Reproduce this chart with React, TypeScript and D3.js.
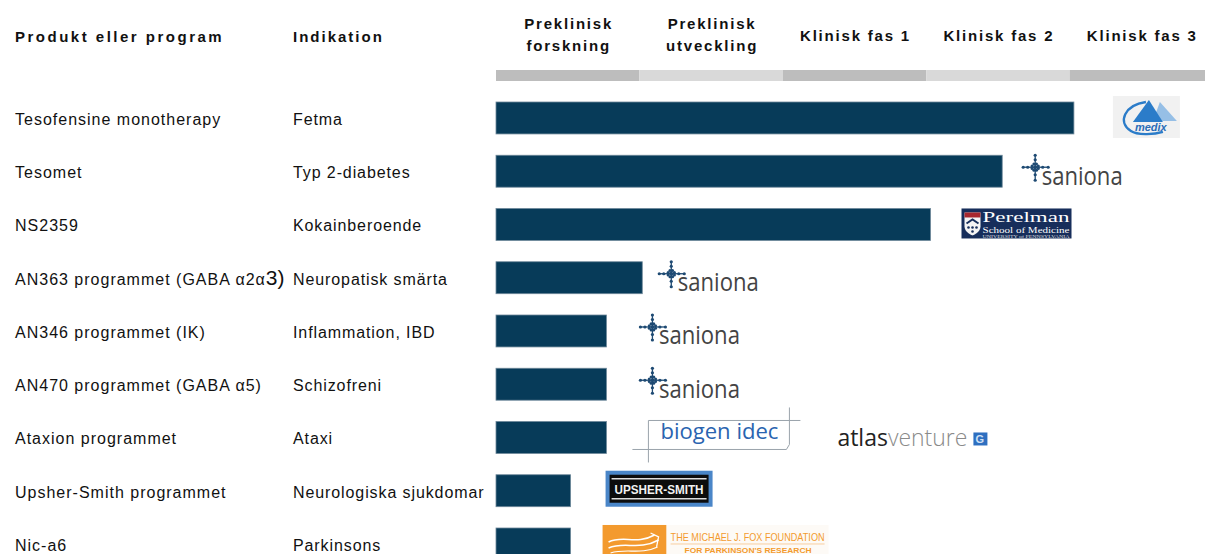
import React from "react";
import * as d3 from "d3";

// ---------- data ----------
const products = [
  "Tesofensine monotherapy",
  "Tesomet",
  "NS2359",
  "AN363 programmet (GABA α2α3)",
  "AN346 programmet (IK)",
  "AN470 programmet (GABA α5)",
  "Ataxion programmet",
  "Upsher-Smith programmet",
  "Nic-a6",
];
const indications = [
  "Fetma",
  "Typ 2-diabetes",
  "Kokainberoende",
  "Neuropatisk smärta",
  "Inflammation, IBD",
  "Schizofreni",
  "Ataxi",
  "Neurologiska sjukdomar",
  "Parkinsons",
];
// progress measured in phases (1 unit = one phase column)
const progress = [4.03, 3.53, 3.03, 1.02, 0.77, 0.77, 0.77, 0.52, 0.52];
const partners = [
  "medix",
  "saniona",
  "perelman",
  "saniona",
  "saniona",
  "saniona",
  "biogen",
  "upsher",
  "fox",
];
const phases = [
  ["Preklinisk", "forskning"],
  ["Preklinisk", "utveckling"],
  ["Klinisk fas 1"],
  ["Klinisk fas 2"],
  ["Klinisk fas 3"],
];

// ---------- layout ----------
const W = 1205;
const H = 554;
const logoGap = [39, 21, 31, 17, 34, 34, 25, 35, 32];
const FONT = "'Liberation Sans', Arial, sans-serif";
const SERIF = "'Liberation Serif', 'DejaVu Serif', serif";
const BAR = "#073B59";

const x = d3.scaleLinear().domain([0, phases.length]).range([496, 1213]);
const y = d3
  .scaleBand<number>()
  .domain(d3.range(products.length))
  .range([91.35, 570.6])
  .paddingInner(0.4)
  .paddingOuter(0.2);

function Saniona({ cx, cy }: { cx: number; cy: number }) {
  const c = "#1E4A73";
  const ring = d3.range(8).map((i) => {
    const a = (i / 8) * Math.PI * 2 + Math.PI / 8;
    return [cx + Math.cos(a) * 3.4, cy + Math.sin(a) * 3.4];
  });
  return (
    <g>
      <line x1={cx} x2={cx} y1={cy - 12} y2={cy + 13} stroke={c} strokeWidth={1.3} />
      <line x1={cx - 12} x2={cx + 13} y1={cy} y2={cy} stroke={c} strokeWidth={1.3} />
      {[
        [cx, cy - 12],
        [cx, cy + 13],
        [cx - 12, cy],
        [cx + 13, cy],
        [cx, cy - 7.5],
        [cx, cy + 7.5],
        [cx - 7.5, cy],
        [cx + 7.5, cy],
      ].map(([a, b], i) => (
        <circle key={i} cx={a} cy={b} r={1.6} fill={c} />
      ))}
      {ring.map(([a, b], i) => (
        <circle key={"r" + i} cx={a} cy={b} r={1.5} fill={c} />
      ))}
      <circle cx={cx} cy={cy} r={2} fill={c} />
      <text
        x={cx + 6.5}
        y={cy + 17.5}
        fontFamily="'Open Sans', 'Noto Sans', sans-serif"
        fontWeight={400}
        fontSize={25}
        fill="#444"
        textLength={81}
        lengthAdjust="spacingAndGlyphs"
      >
        saniona
      </text>
    </g>
  );
}

function Logo({ kind, x0, c }: { kind: string; x0: number; c: number }) {
  if (kind === "saniona") return <Saniona cx={x0 + 12} cy={c - 4} />;
  if (kind === "medix") {
    return (
      <g>
        <rect x={x0} y={c - 22} width={67} height={42} fill="#f1f1f1" />
        <path
          d={`M${x0 + 33},${c - 16} C${x0 + 12},${c - 13} ${x0 + 4},${c + 4} ${x0 + 18},${c + 13} C${x0 + 24},${c + 17} ${x0 + 40},${c + 17} ${x0 + 50},${c + 14}`}
          fill="none"
          stroke="#2B7CC9"
          strokeWidth={2.4}
        />
        <path d={`M${x0 + 47},${c - 16} L${x0 + 64},${c + 3} L${x0 + 40},${c + 3} Z`} fill="#96BFE6" />
        <path d={`M${x0 + 36},${c - 18} L${x0 + 20},${c + 4} L${x0 + 50},${c + 4} Z`} fill="#2B7CC9" />
        <text
          x={x0 + 22}
          y={c + 13}
          fontFamily={FONT}
          fontWeight={700}
          fontStyle="italic"
          fontSize={11}
          fill="#2B6DB8"
        >
          medix
        </text>
      </g>
    );
  }
  if (kind === "perelman") {
    const t = c - 16;
    return (
      <g>
        <rect x={x0} y={t} width={110} height={30} fill="#172E5B" />
        <path
          d={`M${x0 + 3},${t + 4} L${x0 + 19},${t + 4} L${x0 + 19},${t + 18} C${x0 + 19},${t + 24} ${x0 + 11},${t + 27} ${x0 + 11},${t + 27} C${x0 + 11},${t + 27} ${x0 + 3},${t + 24} ${x0 + 3},${t + 18} Z`}
          fill="#f4f4f4"
        />
        <rect x={x0 + 3} y={t + 4} width={16} height={5} fill="#A8282F" />
        <path
          d={`M${x0 + 5},${t + 15} L${x0 + 11},${t + 11} L${x0 + 17},${t + 15}`}
          fill="none"
          stroke="#172E5B"
          strokeWidth={2}
        />
        <circle cx={x0 + 7} cy={t + 19} r={1.3} fill="#172E5B" />
        <circle cx={x0 + 11} cy={t + 19} r={1.3} fill="#172E5B" />
        <circle cx={x0 + 15} cy={t + 19} r={1.3} fill="#172E5B" />
        <circle cx={x0 + 11} cy={t + 23} r={1.3} fill="#172E5B" />
        <text x={x0 + 21} y={t + 14} fontFamily={SERIF} fontSize={15} fill="#fff" textLength={87} lengthAdjust="spacingAndGlyphs">
          Perelman
        </text>
        <text x={x0 + 21} y={t + 24.3} fontFamily={SERIF} fontSize={7.5} fill="#fff" textLength={87} lengthAdjust="spacingAndGlyphs">
          School of Medicine
        </text>
        <text x={x0 + 21} y={t + 29.4} fontFamily={SERIF} fontSize={3.4} fill="#ddd" textLength={87} lengthAdjust="spacingAndGlyphs">
          UNIVERSITY of PENNSYLVANIA
        </text>
      </g>
    );
  }
  if (kind === "biogen") {
    return (
      <g>
        <path
          d={`M${x0 + 17},${c + 25} L${x0 + 17},${c - 17} L${x0 + 169},${c - 17}`}
          fill="none"
          stroke="#9aa3ab"
          strokeWidth={1}
        />
        <path
          d={`M${x0 + 158},${c - 30} L${x0 + 158},${c + 7} L${x0 + 155},${c + 12} L${x0 + 1},${c + 12}`}
          fill="none"
          stroke="#9aa3ab"
          strokeWidth={1}
        />
        <text
          x={x0 + 29}
          y={c + 2}
          fontFamily="'Open Sans', 'Noto Sans', sans-serif"
          fontWeight={500}
          fontSize={21}
          fill="#2A64B0"
          textLength={118}
          lengthAdjust="spacingAndGlyphs"
        >
          biogen idec
        </text>
        <text
          x={x0 + 206}
          y={c + 9}
          fontFamily="'Open Sans', 'Noto Sans', sans-serif"
          fontSize={23}
          fill="#222"
          textLength={130}
          lengthAdjust="spacingAndGlyphs"
        >
          <tspan fontWeight={500}>atlas</tspan>
          <tspan fontWeight={300} fill="#8a8a8a">
            venture
          </tspan>
        </text>
        <rect x={x0 + 342} y={c - 5} width={14} height={13} fill="#2E6FC0" />
        <text x={x0 + 344} y={c + 6} fontFamily={FONT} fontWeight={700} fontSize={11} fill="#cfe0f5">
          G
        </text>
      </g>
    );
  }
  if (kind === "upsher") {
    const t = c - 20;
    return (
      <g>
        <rect x={x0} y={t} width={107} height={36} fill="#4A86C8" />
        <rect x={x0 + 4} y={t + 4} width={99} height={28} fill="#0c0c0c" />
        <line x1={x0 + 6} x2={x0 + 101} y1={t + 8} y2={t + 8} stroke="#ddd" strokeWidth={1.5} />
        <line x1={x0 + 6} x2={x0 + 101} y1={t + 28} y2={t + 28} stroke="#ddd" strokeWidth={1.5} />
        <text
          x={x0 + 9}
          y={t + 23}
          fontFamily={FONT}
          fontWeight={700}
          fontSize={12}
          fill="#f2f2f2"
          textLength={89}
          lengthAdjust="spacingAndGlyphs"
        >
          UPSHER-SMITH
        </text>
      </g>
    );
  }
  if (kind === "fox") {
    const t = c - 19;
    return (
      <g>
        <rect x={x0} y={t} width={64} height={35} fill="#F39A2E" />
        <path
          d={`M${x0 + 6},${t + 17} C${x0 + 20},${t + 10} ${x0 + 34},${t + 20} ${x0 + 52},${t + 10}`}
          fill="none"
          stroke="#fff"
          strokeWidth={1.5}
        />
        <path
          d={`M${x0 + 6},${t + 23} C${x0 + 22},${t + 16} ${x0 + 36},${t + 26} ${x0 + 56},${t + 15}`}
          fill="none"
          stroke="#fff"
          strokeWidth={1.5}
        />
        <path
          d={`M${x0 + 8},${t + 28} C${x0 + 24},${t + 23} ${x0 + 38},${t + 30} ${x0 + 55},${t + 22}`}
          fill="none"
          stroke="#fff"
          strokeWidth={1.2}
        />
        <path
          d={`M${x0 + 48},${t + 8} L${x0 + 56},${t + 12} L${x0 + 54},${t + 22}`}
          fill="none"
          stroke="#fff"
          strokeWidth={1.3}
        />
        <rect x={x0 + 64} y={t} width={162} height={35} fill="#fdfaf6" />
        <text
          x={x0 + 68}
          y={t + 16}
          fontFamily={FONT}
          fontSize={11}
          fill="#F39A2E"
          textLength={154}
          lengthAdjust="spacingAndGlyphs"
        >
          THE MICHAEL J. FOX FOUNDATION
        </text>
        <line x1={x0 + 68} x2={x0 + 222} y1={t + 19} y2={t + 19} stroke="#f8cfa0" strokeWidth={1} />
        <text
          x={x0 + 82}
          y={t + 28}
          fontFamily={FONT}
          fontWeight={700}
          fontSize={8}
          fill="#F39A2E"
          textLength={127}
          lengthAdjust="spacingAndGlyphs"
        >
          FOR PARKINSON'S RESEARCH
        </text>
      </g>
    );
  }
  return null;
}

export default function App() {
  const bw = y.bandwidth();
  return (
    <svg
      width={W}
      height={H}
      style={{ position: "absolute", left: 0, top: 0, background: "#fff" }}
    >
      <rect width={W} height={H} fill="#fff" />
      {/* column headers */}
      <text x={15} y={42} fontFamily={FONT} fontWeight={700} fontSize={15} letterSpacing={2.5} fill="#111">
        Produkt eller program
      </text>
      <text x={293} y={42} fontFamily={FONT} fontWeight={700} fontSize={15} letterSpacing={2.0} fill="#111">
        Indikation
      </text>
      {phases.map((p, i) => {
        const cx = (x(i) + x(i + 1)) / 2 + 1;
        return (
          <g key={i}>
            {p.length === 2 ? (
              <>
                <text x={cx} y={29} textAnchor="middle" fontFamily={FONT} fontWeight={700} fontSize={15} letterSpacing={1.8} fill="#111">
                  {p[0]}
                </text>
                <text x={cx} y={51} textAnchor="middle" fontFamily={FONT} fontWeight={700} fontSize={15} letterSpacing={1.8} fill="#111">
                  {p[1]}
                </text>
              </>
            ) : (
              <text x={cx} y={41} textAnchor="middle" fontFamily={FONT} fontWeight={700} fontSize={15} letterSpacing={1.8} fill="#111">
                {p[0]}
              </text>
            )}
            <rect
              x={x(i)}
              y={70}
              width={x(i + 1) - x(i)}
              height={11}
              fill={i % 2 === 0 ? "#BDBDBD" : "#D9D9D9"}
            />
          </g>
        );
      })}
      {/* rows */}
      {products.map((p, i) => {
        const top = y(i)!;
        const c = top + bw / 2;
        const isAlpha = p.endsWith("α2α3)");
        return (
          <g key={i}>
            <text x={15} y={c + 7} fontFamily={FONT} fontSize={16} letterSpacing={1.0} fill="#111">
              {isAlpha ? (
                <>
                  {p.slice(0, -2)}
                  <tspan fontSize={21} letterSpacing={0}>
                    3)
                  </tspan>
                </>
              ) : (
                p
              )}
            </text>
            <text x={293} y={c + 7} fontFamily={FONT} fontSize={16} letterSpacing={0.9} fill="#111">
              {indications[i]}
            </text>
            <rect
              x={x(0)}
              y={top}
              width={x(progress[i]) - x(0)}
              height={bw}
              fill={BAR}
              stroke="#6d8799"
              strokeWidth={0.8}
            />
            <Logo kind={partners[i]} x0={x(progress[i]) + logoGap[i]} c={c} />
          </g>
        );
      })}
    </svg>
  );
}
